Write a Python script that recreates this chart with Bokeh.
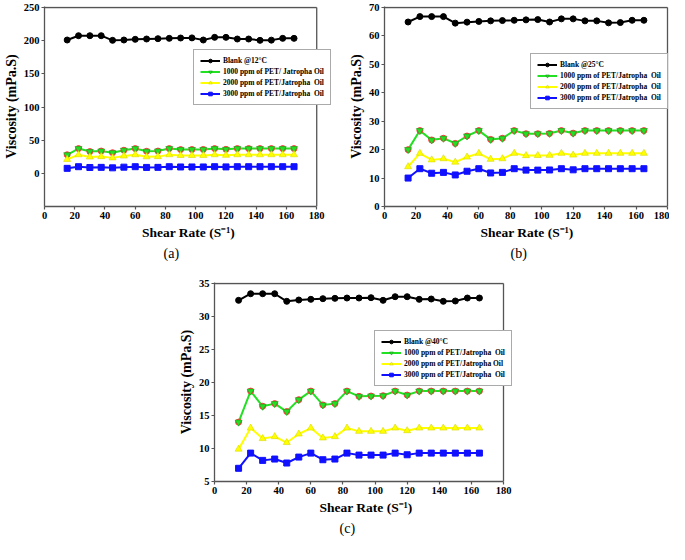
from bokeh.plotting import figure
from bokeh.layouts import column, row, Spacer
from bokeh.models import Legend, LegendItem, FixedTicker, Range1d, Title
from bokeh.embed import file_html
from bokeh.resources import INLINE

# ---------------- data ----------------
shear_rate = [15, 22.5, 30, 37.5, 45, 52.5, 60, 67.5, 75, 82.5, 90,
              97.5, 105, 112.5, 120, 127.5, 135, 142.5, 150, 157.5, 165]

# (a) 12 °C
blank_12 = [201, 207.5, 207.5, 207.5, 200.5, 201, 202, 202.5, 203, 203.5, 204,
            204.2, 201, 205, 205, 202.5, 202.5, 200.5, 200.8, 203.5, 203.5]
ppm1000_12 = [28.0, 37.3, 32.8, 33.6, 31.1, 34.8, 37.3, 33.2, 33.6, 37.3, 35.8,
              35.9, 36.0, 37.3, 36.2, 37.3, 37.3, 37.3, 37.3, 37.3, 37.3]
ppm2000_12 = [21.0, 28.0, 24.6, 25.2, 23.3, 26.1, 28.0, 24.9, 25.2, 28.0, 26.9,
              26.9, 27.0, 28.0, 27.2, 28.0, 28.0, 28.0, 28.0, 28.0, 28.0]
ppm3000_12 = [7.5, 10.0, 8.8, 9.0, 8.3, 9.3, 10.0, 8.9, 9.0, 10.0, 9.6,
              9.6, 9.6, 10.0, 9.7, 10.0, 10.0, 10.0, 10.0, 10.0, 10.0]

# (b) 25 °C
blank_25 = [64.9, 66.8, 66.8, 66.8, 64.5, 64.85, 65.1, 65.3, 65.4, 65.5, 65.65,
            65.75, 64.9, 66.0, 66.0, 65.3, 65.3, 64.6, 64.7, 65.5, 65.5]
ppm1000_25 = [20.0, 26.7, 23.4, 24.0, 22.2, 24.8, 26.7, 23.6, 24.0, 26.7, 25.6,
              25.6, 25.7, 26.7, 25.8, 26.7, 26.7, 26.7, 26.7, 26.7, 26.7]
ppm2000_25 = [14.0, 18.7, 16.4, 16.8, 15.6, 17.4, 18.7, 16.6, 16.8, 18.7, 17.9,
              17.95, 18.0, 18.7, 18.1, 18.7, 18.7, 18.7, 18.7, 18.7, 18.7]
ppm3000_25 = [10.0, 13.3, 11.7, 12.0, 11.1, 12.4, 13.3, 11.8, 12.0, 13.3, 12.8,
              12.8, 12.85, 13.3, 12.9, 13.3, 13.3, 13.3, 13.3, 13.3, 13.3]

# (c) 40 °C
blank_40 = [32.45, 33.45, 33.45, 33.45, 32.3, 32.5, 32.6, 32.7, 32.75, 32.8, 32.8,
            32.85, 32.45, 33.0, 33.0, 32.6, 32.65, 32.3, 32.35, 32.8, 32.8]
ppm1000_40 = [14.0, 18.7, 16.4, 16.8, 15.6, 17.4, 18.7, 16.6, 16.8, 18.7, 17.9,
              17.95, 18.0, 18.7, 18.1, 18.7, 18.7, 18.7, 18.7, 18.7, 18.7]
ppm2000_40 = [9.9, 13.1, 11.5, 11.8, 10.9, 12.2, 13.1, 11.6, 11.8, 13.1, 12.6,
              12.6, 12.6, 13.1, 12.7, 13.1, 13.1, 13.1, 13.1, 13.1, 13.1]
ppm3000_40 = [7.0, 9.3, 8.2, 8.4, 7.8, 8.7, 9.3, 8.3, 8.4, 9.3, 9.0,
              9.0, 9.0, 9.3, 9.05, 9.3, 9.3, 9.3, 9.3, 9.3, 9.3]

x_ticks = [0, 20, 40, 60, 80, 100, 120, 140, 160, 180]
y_ticks_a = [0, 50, 100, 150, 200, 250]
y_ticks_b = [0, 10, 20, 30, 40, 50, 60, 70]
y_ticks_c = [5, 10, 15, 20, 25, 30, 35]

labels_a = ["Blank @12\u00b0C", "1000 ppm of PET/ Jatropha Oil",
            "2000 ppm of PET/Jatropha  Oil", "3000 ppm of PET/Jatropha  Oil"]
labels_b = ["Blank @25\u00b0C", "1000 ppm of PET/Jatropha  Oil",
            "2000 ppm of PET/Jatropha  Oil", "3000 ppm of PET/Jatropha  Oil"]
labels_c = ["Blank @40\u00b0C", "1000 ppm of PET/Jatropha  Oil",
            "2000 ppm of PET/Jatropha Oil", "3000 ppm of PET/Jatropha  Oil"]

FONT = "Liberation Serif"
FRAME = "#555555"


def make_panel(series, labels, yr, yticks, caption, width, height,
               mb_left, mb_right, mb_top, extra_px, legend_loc, cap_offset):
    frame_w = width - mb_left - mb_right
    x_end = x_ticks[-1] * frame_w / (frame_w - extra_px)
    frame_h = height - mb_top - 56
    y_pad = (yr[1] - yr[0]) / frame_h * 1.0
    p = figure(width=width, height=height, output_backend="svg",
               toolbar_location=None, x_range=Range1d(0, x_end),
               y_range=Range1d(yr[0], yr[1] + y_pad), min_border_left=mb_left,
               min_border_right=mb_right, min_border_top=mb_top,
               min_border_bottom=0)
    p.grid.visible = False
    p.outline_line_color = None
    p.background_fill_color = "white"
    p.border_fill_color = "white"

    for ax in (p.xaxis[0], p.yaxis[0]):
        ax.axis_line_color = FRAME
        ax.axis_line_width = 1.3
        ax.major_tick_line_color = FRAME
        ax.major_tick_line_width = 1.2
        ax.major_tick_out = 3
        ax.major_tick_in = 0
        ax.minor_tick_line_color = None
        ax.major_label_text_font = FONT
        ax.major_label_text_font_style = "bold"
        ax.major_label_text_font_size = "10.5px"
        ax.major_label_text_color = "black"
        ax.major_label_standoff = 2
        ax.axis_label_text_font = FONT
        ax.axis_label_text_font_style = "bold"
        ax.axis_label_text_color = "black"
        ax.axis_label_standoff = 3
    p.xaxis[0].axis_label_text_font_size = "13.5px"
    p.yaxis[0].axis_label_text_font_size = "14px"
    p.yaxis[0].axis_label_standoff = 2
    p.xaxis[0].bounds = (x_ticks[0], x_ticks[-1])
    p.xaxis[0].ticker = FixedTicker(ticks=x_ticks)
    p.yaxis[0].ticker = FixedTicker(ticks=yticks)
    p.xaxis[0].axis_label = "Shear Rate (S\u207b\u00b9)"
    p.yaxis[0].axis_label = "Viscosity (mPa.S)"

    # top and right border of the plot box (ends at x = 180)
    p.segment(x0=[x_ticks[0], x_ticks[-1]], y0=[yr[1], yr[0]],
              x1=[x_ticks[-1], x_ticks[-1]], y1=[yr[1], yr[1]],
              line_color=FRAME, line_width=1.3)

    blank, g, y, b = series
    items = []
    lb = p.line(shear_rate, blank, line_color="black", line_width=2)
    sb = p.scatter(shear_rate, blank, marker="circle", size=6,
                   fill_color="black", line_color="black")
    items.append(LegendItem(label=labels[0], renderers=[lb, sb]))

    lg = p.line(shear_rate, g, line_color="#22e022", line_width=2)
    p.scatter(shear_rate, g, marker="circle", size=6,
              fill_color="#ff4040", line_color="#ff4040")
    sg = p.scatter(shear_rate, g, marker="inverted_triangle", size=7,
                   fill_color="#22e022", line_color="#1aa01a", line_width=0.6)
    items.append(LegendItem(label=labels[1], renderers=[lg, sg]))

    ly = p.line(shear_rate, y, line_color="#ffff00", line_width=2)
    sy = p.scatter(shear_rate, y, marker="triangle", size=7,
                   fill_color="#ffff00", line_color="#d8d800", line_width=0.6)
    items.append(LegendItem(label=labels[2], renderers=[ly, sy]))

    lbl = p.line(shear_rate, b, line_color="#1010ff", line_width=2)
    sbl = p.scatter(shear_rate, b, marker="square", size=6,
                    fill_color="#1010ff", line_color="#1010ff")
    items.append(LegendItem(label=labels[3], renderers=[lbl, sbl]))

    leg = Legend(items=items, location=legend_loc,
                 label_text_font=FONT, label_text_font_style="bold",
                 label_text_font_size="7.5px", label_text_color="black",
                 label_height=9, glyph_height=9, glyph_width=20,
                 label_standoff=3, spacing=2, padding=6, margin=0,
                 border_line_color=FRAME, border_line_width=1,
                 background_fill_color="white", background_fill_alpha=1)
    p.add_layout(leg, "center")

    p.add_layout(Title(text=caption, align="left", offset=cap_offset,
                       text_font=FONT, text_font_style="normal",
                       text_font_size="14px", text_color="black",
                       standoff=2), "below")
    return p


fa = make_panel((blank_12, ppm1000_12, ppm2000_12, ppm3000_12), labels_a,
                (-50, 250), y_ticks_a, "(a)", width=342, height=261,
                mb_left=40, mb_right=10, mb_top=6, extra_px=16,
                legend_loc=(149, 101), cap_offset=119)
fb = make_panel((blank_25, ppm1000_25, ppm2000_25, ppm3000_25), labels_b,
                (0, 70), y_ticks_b, "(b)", width=327, height=261,
                mb_left=42, mb_right=0, mb_top=6, extra_px=2,
                legend_loc=(146, 97), cap_offset=126)
fc = make_panel((blank_40, ppm1000_40, ppm2000_40, ppm3000_40), labels_c,
                (5, 35), y_ticks_c, "(c)", width=353, height=275,
                mb_left=42, mb_right=8, mb_top=21, extra_px=14,
                legend_loc=(160, 95), cap_offset=125)

layout = column(row(fa, fb), row(Spacer(width=172, height=10), fc))

with open("out.html", "w") as f:
    f.write(file_html(layout, INLINE))
